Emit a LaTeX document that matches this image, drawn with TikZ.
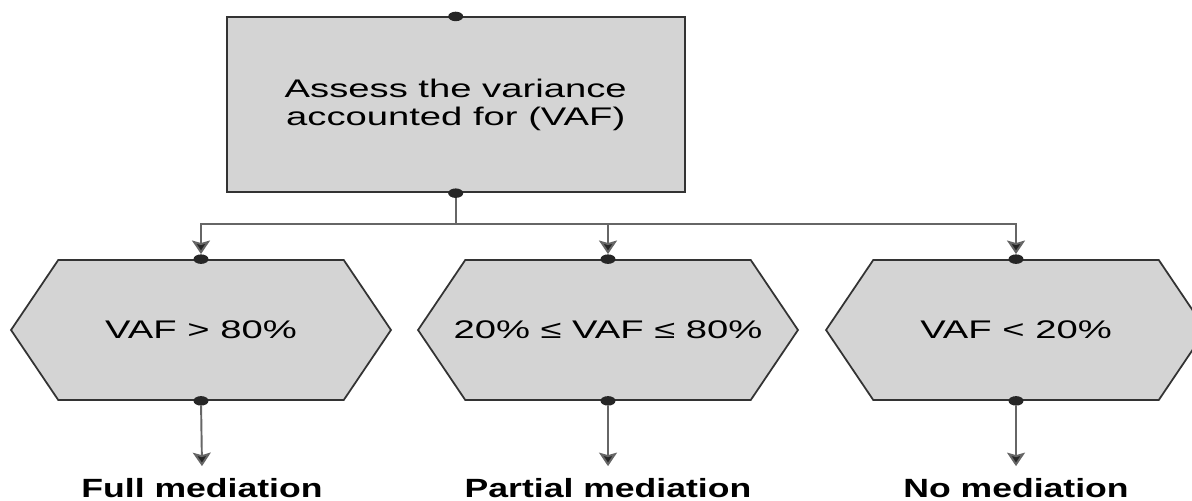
\documentclass[tikz,border=0pt]{standalone}
\usepackage{fontspec}
\setmainfont{Liberation Sans}[FakeStretch=1.5]
\newfontfamily\resultfont{Liberation Sans}[FakeStretch=1.35]
\usepackage{xcolor}
\usetikzlibrary{arrows.meta, positioning, shapes}

% hexagon text may run into the pointed ends
\newcommand{\hexlabel}[1]{\makebox[0pt]{#1}}

\begin{document}
\begin{tikzpicture}[x=0.02cm, y=-0.02cm,
    box/.style={rectangle, draw=black!80, fill=black!17, line width=1pt,
                minimum width=9.16cm, minimum height=3.5cm, align=center,
                font=\fontsize{14.5}{15.9}\selectfont},
    hexa/.style={signal, signal to=east and west, signal pointer angle=112,
                draw=black!80, fill=black!17, line width=1pt,
                minimum width=7.6cm, minimum height=2.8cm,
                font=\fontsize{14.5}{16}\selectfont},
    result/.style={font=\resultfont\bfseries\fontsize{15}{18}\selectfont,
                inner xsep=2pt, inner ysep=6.5pt, anchor=base},
    dot/.style={ellipse, fill=black!85, inner sep=0pt,
                minimum width=0.3cm, minimum height=0.19cm},
    line/.style={draw=black!60, line width=1.1pt},
    arrow/.style={line, -{Stealth[width=0.36cm, length=0.27cm, inset=0.05cm, fill=black!85]}}]

\useasboundingbox (0,0) rectangle (1192,500);
\clip (0,0) rectangle (1192,500);

\node[box] (assess) at (455.7,104.8) {Assess the variance\\accounted for (VAF)};
\node[hexa] (full) at (201,330) {\hexlabel{VAF > 80\%}};
\node[hexa] (partial) at (608,330) {\hexlabel{20\% ≤ VAF ≤ 80\%}};
\node[hexa] (none) at (1016,330) {\hexlabel{VAF < 20\%}};

\node[result] (fullres) at (202,497) {Full mediation};
\node[result] (partialres) at (608,497) {Partial mediation};
\node[result] (noneres) at (1016,497) {No mediation};

% connection points
\node[dot] (assess-top) at (assess.north) {};
\node[dot] (assess-bot) at (assess.south) {};
\foreach \h in {full, partial, none} {
    \node[dot] (\h-top) at (\h.north) {};
    \node[dot] (\h-bot) at (\h.south) {};
}

\draw[line] (assess-bot) -- ++(0,31) coordinate (split);
\foreach \h in {full, partial, none} {
    \draw[arrow] (split) -| (\h-top.north);
    \draw[arrow] (\h-bot) -- (\h res.north);
}
\end{tikzpicture}
\end{document}
